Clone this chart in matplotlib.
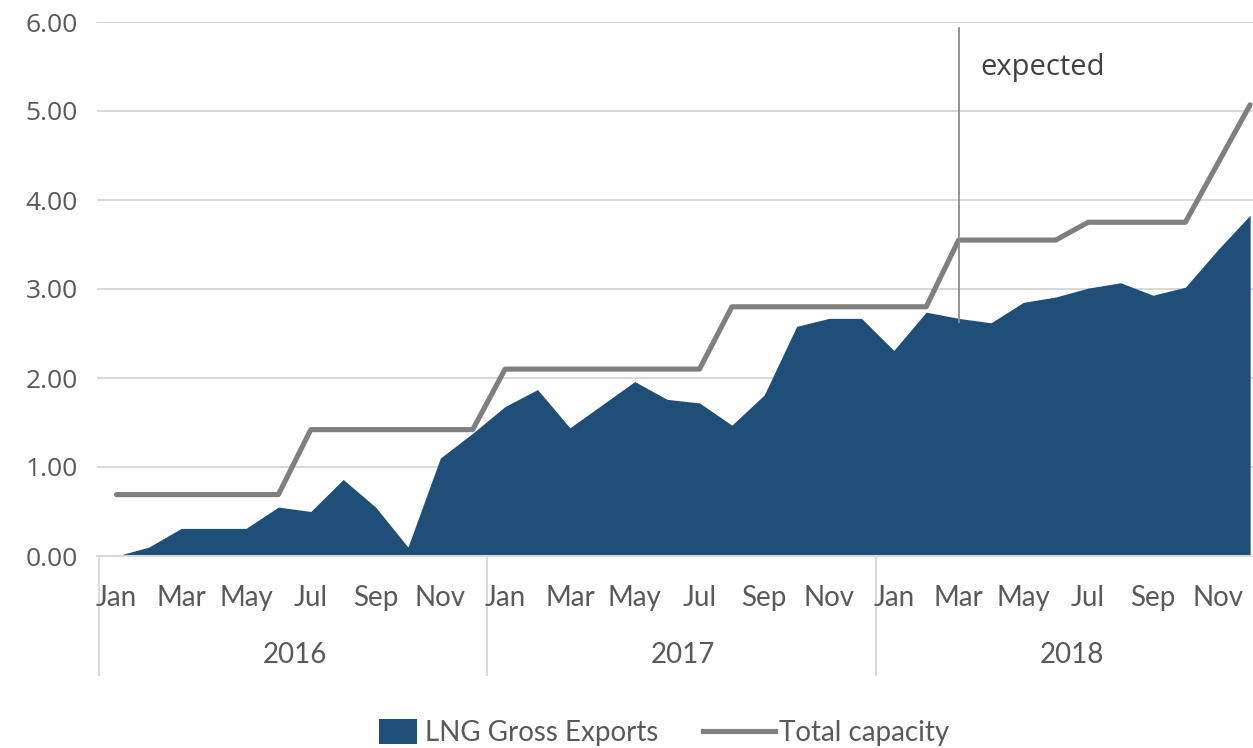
import matplotlib
matplotlib.use("Agg")
import matplotlib.pyplot as plt
from matplotlib.lines import Line2D
from matplotlib.patches import Patch, Rectangle
from matplotlib.legend_handler import HandlerPatch
import numpy as np

months = ["Jan", "Feb", "Mar", "Apr", "May", "Jun",
          "Jul", "Aug", "Sep", "Oct", "Nov", "Dec"]
years = ["2016", "2017", "2018"]

# LNG gross exports, monthly, Jan 2016 - Dec 2018
exports = [0.00, 0.10, 0.31, 0.31, 0.31, 0.55, 0.50, 0.86, 0.55, 0.10, 1.10, 1.38,
           1.68, 1.87, 1.44, 1.70, 1.96, 1.76, 1.72, 1.47, 1.81, 2.58, 2.67, 2.67,
           2.31, 2.74, 2.67, 2.62, 2.85, 2.91, 3.01, 3.07, 2.93, 3.02, 3.44, 3.83]
# total liquefaction capacity
capacity = [0.69, 0.69, 0.69, 0.69, 0.69, 0.69, 1.42, 1.42, 1.42, 1.42, 1.42, 1.42,
            2.10, 2.10, 2.10, 2.10, 2.10, 2.10, 2.10, 2.80, 2.80, 2.80, 2.80, 2.80,
            2.80, 2.80, 3.55, 3.55, 3.55, 3.55, 3.75, 3.75, 3.75, 3.75, 4.41, 5.07]
yticks = [0, 1, 2, 3, 4, 5, 6]
expected_idx = 26  # Mar 2018

NARROW = ["Lato", "DejaVu Sans"]
WIDE = ["Open Sans", "DejaVu Sans"]
txt = "#595959"
grid = "#D9D9D9"

x = np.arange(len(exports))

fig = plt.figure(figsize=(12.53, 7.48), dpi=100)
ax = fig.add_axes([97 / 1253, 192 / 748, 1158 / 1253, 534 / 748])

ax.fill_between(x, exports, color="#1F4E79", linewidth=0, zorder=2)
ax.plot(x, capacity, color="#7F7F7F", lw=3.7, solid_joinstyle="round",
        solid_capstyle="round", zorder=3)

ax.set_xlim(-0.6, 35.15)
ax.set_ylim(0, 6)
ax.set_yticks(yticks)
ax.set_yticklabels([f"{v:.2f}" for v in yticks], family=WIDE, fontsize=19, color=txt)
ax.tick_params(axis="y", length=0, pad=14)
ax.set_xticks([])
ax.grid(axis="y", color=grid, lw=1.5, zorder=0)
for s in ["left", "right", "top"]:
    ax.spines[s].set_visible(False)
ax.spines["bottom"].set_color(grid)
ax.spines["bottom"].set_linewidth(1.5)

# expected marker
ax.plot([expected_idx, expected_idx], [2.63, 5.93], color="#8C8C8C", lw=1.3, zorder=4)
ax.text(expected_idx + 0.67, 5.49, "expected", family=WIDE, fontsize=21,
        color="#404040", va="center", ha="left")

# multi-level category axis
tr = ax.get_xaxis_transform()
for i in range(0, len(exports), 2):
    ax.text(i, -0.079, months[i % 12], transform=tr, ha="center", va="center",
            family=NARROW, fontsize=20, color=txt, clip_on=False)
for k, yr in enumerate(years):
    ax.text(k * 12 + 5.5, -0.185, yr, transform=tr, ha="center", va="center",
            family=NARROW, fontsize=20, color=txt, clip_on=False)
    ax.add_line(Line2D([k * 12 - 0.55, k * 12 - 0.55], [0, -0.223], transform=tr,
                       color=grid, lw=1.5, clip_on=False))


# narrower square patch, right aligned in the handle box
def small_patch(legend, orig_handle, xdescent, ydescent, width, height, fontsize):
    w = 27.5
    return Rectangle((width - w - xdescent - 3, -ydescent - 1), w, height + 2)


handles = [Patch(facecolor="#1F4E79", edgecolor="none", label="LNG Gross Exports"),
           Line2D([0], [0], color="#7F7F7F", lw=3.7, label="Total capacity")]
fig.legend(handles=handles, loc="center", bbox_to_anchor=(0.518, 0.02), ncol=2,
           frameon=False, prop={"family": NARROW, "size": 20},
           handlelength=2.6, handleheight=0.9, handletextpad=0.15, columnspacing=1.6,
           labelcolor=txt, handler_map={Patch: HandlerPatch(patch_func=small_patch)})

fig.savefig("out.png", dpi=100)
